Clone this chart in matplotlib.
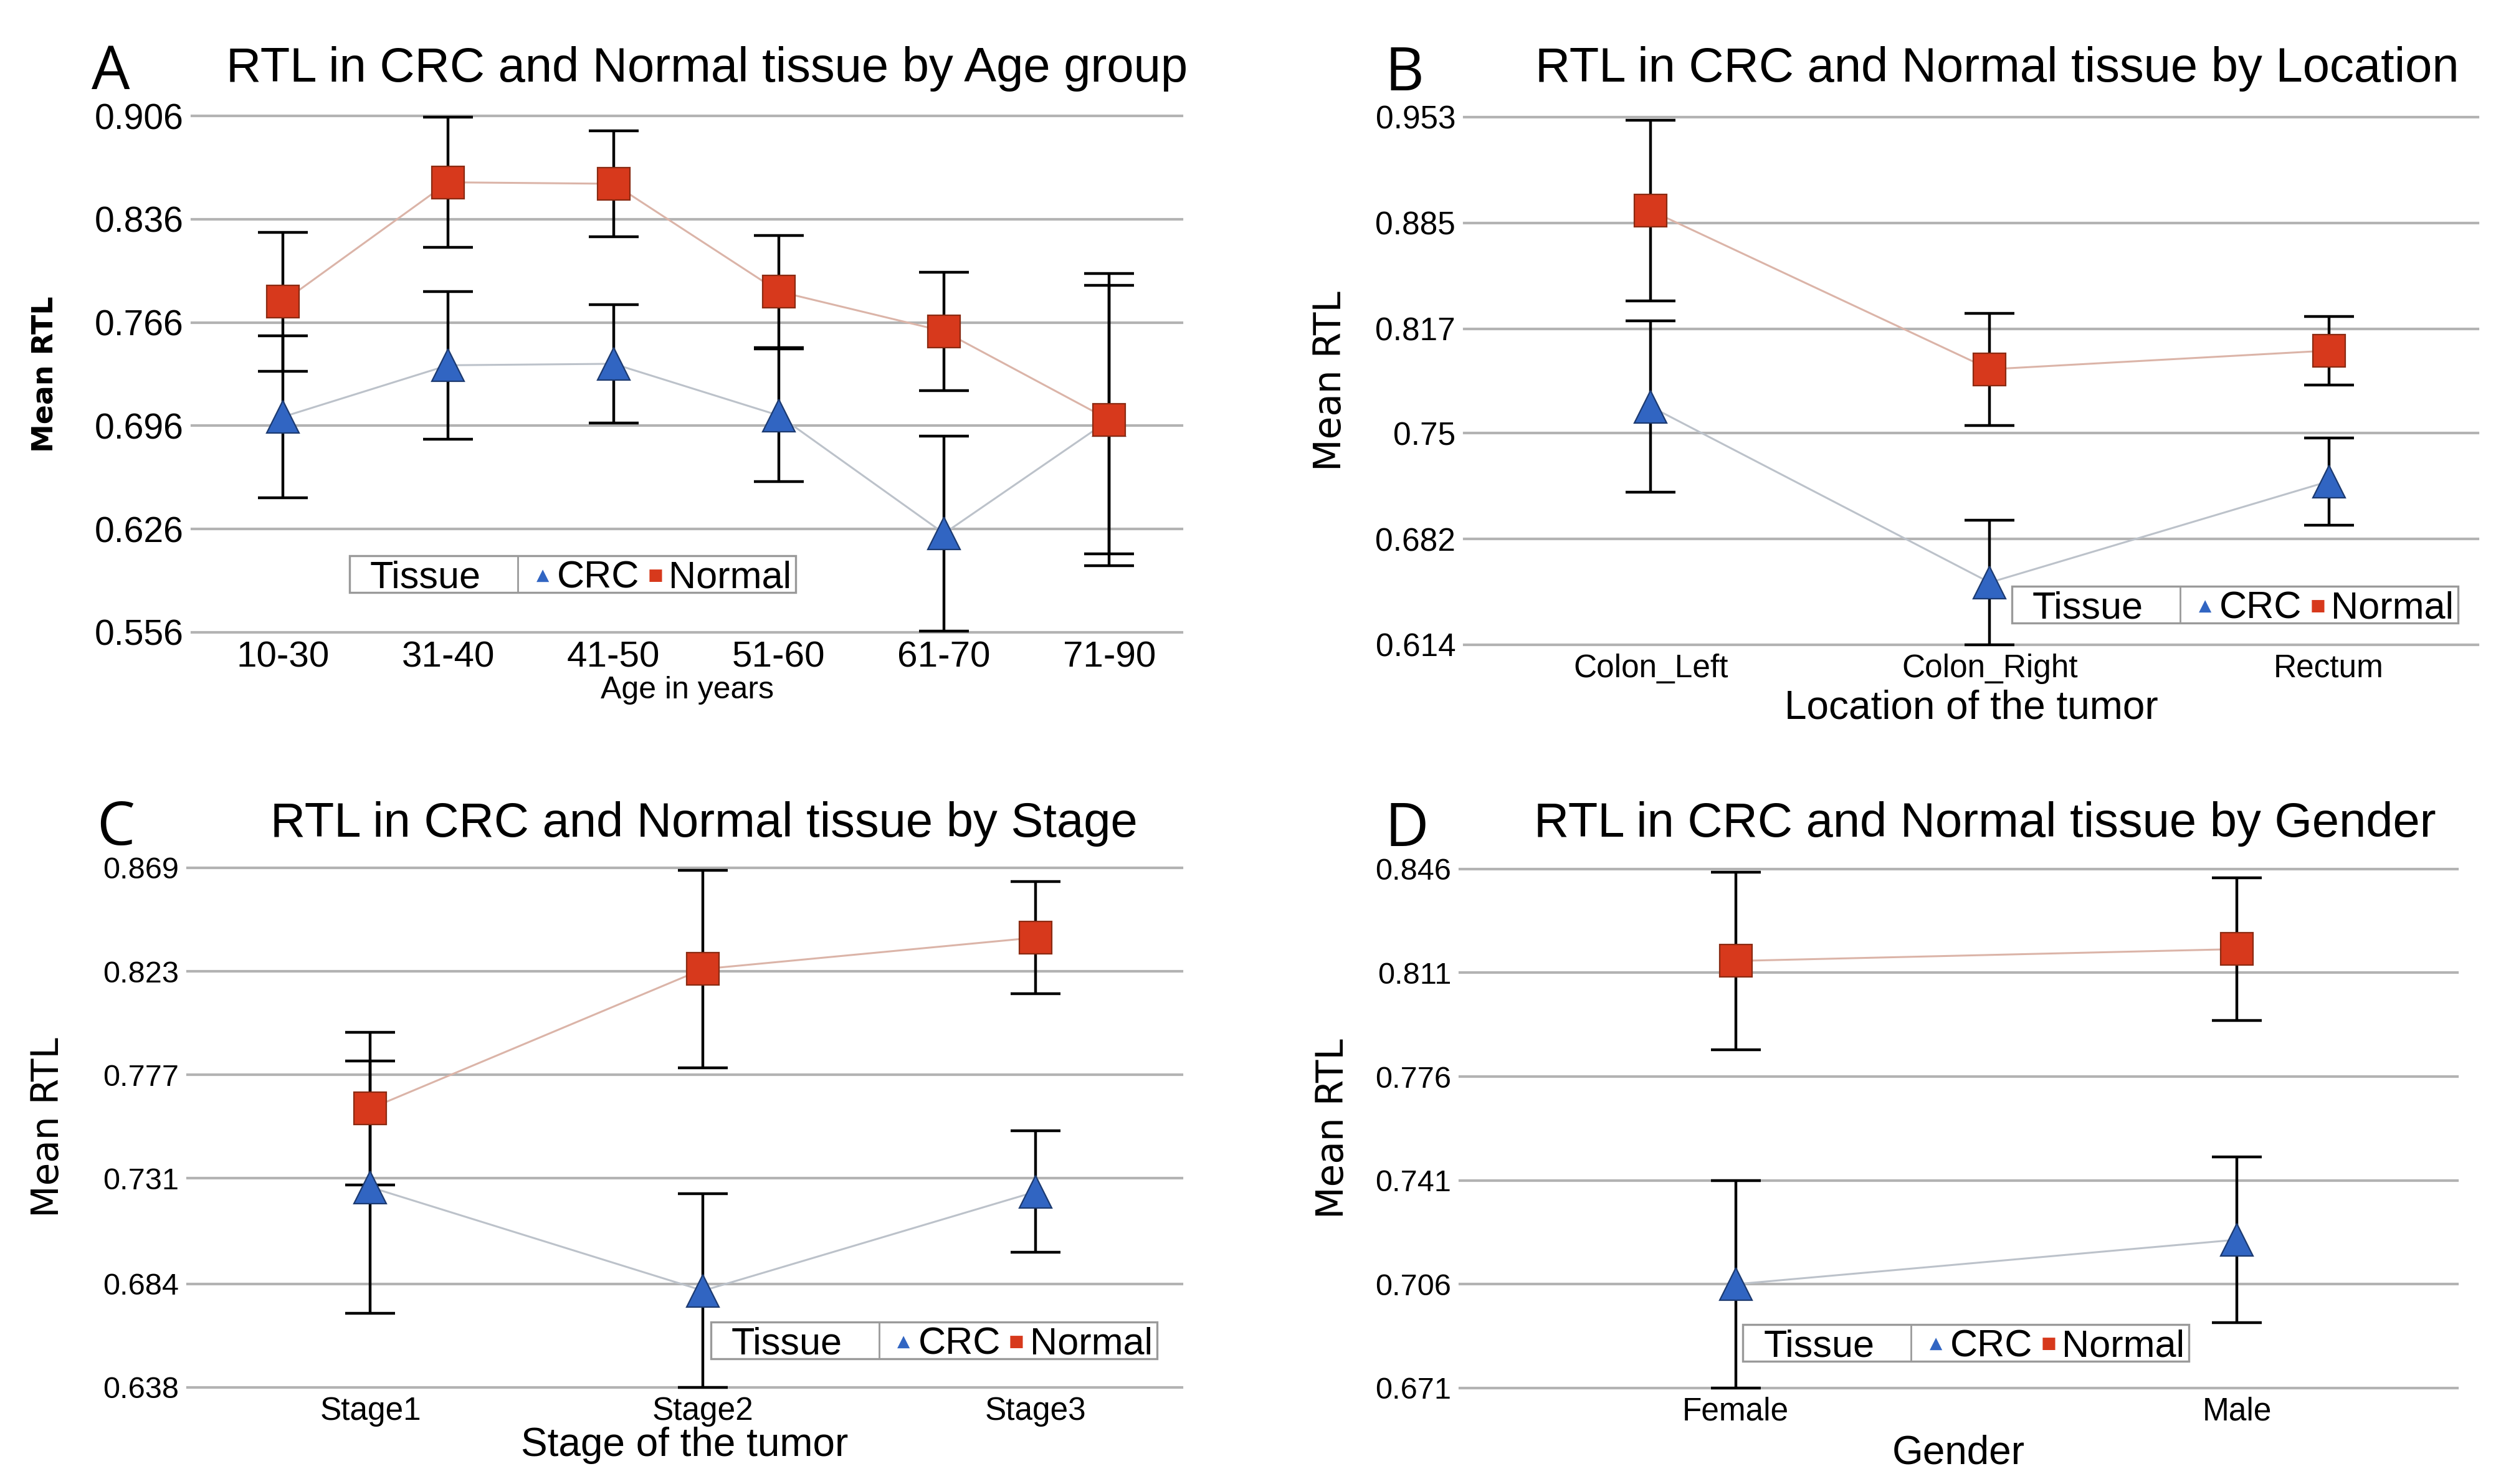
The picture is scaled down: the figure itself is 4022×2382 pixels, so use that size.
#!/usr/bin/env python3
"""RTL in CRC and Normal tissue, four panels (age, location, stage, gender)."""
import matplotlib
matplotlib.use('Agg')
import matplotlib.pyplot as plt
from matplotlib.patches import Rectangle
import numpy as np

# --- Style ---
plt.rcParams.update({
    'font.family': ['Liberation Sans', 'DejaVu Sans'],
    'figure.facecolor': 'white',
    'axes.facecolor': 'white',
})

BLUE = '#3165c2'
BLUE_EDGE = '#1c3a70'
RED = '#d7391c'
RED_EDGE = '#8a2a12'
LINE_CRC = '#bcc2ca'
LINE_NRM = '#dbb4a8'
GRID = '#b3b3b3'

W, H, DPI = 4022, 2382, 200

# --- Data ---
# A: by age group
age_cats = ['10-30', '31-40', '41-50', '51-60', '61-70', '71-90']
age_crc = [0.702, 0.737, 0.738, 0.703, 0.623, 0.700]
age_crc_err = [0.055, 0.050, 0.040, 0.045, 0.066, 0.099]
age_nrm = [0.780, 0.861, 0.860, 0.787, 0.760, 0.700]
age_nrm_err = [0.047, 0.044, 0.036, 0.038, 0.040, 0.091]
age_yticks = [0.556, 0.626, 0.696, 0.766, 0.836, 0.906]

# B: by location
loc_cats = ['Colon_Left', 'Colon_Right', 'Rectum']
loc_crc = [0.767, 0.654, 0.719]
loc_crc_err = [0.055, 0.040, 0.028]
loc_nrm = [0.893, 0.791, 0.803]
loc_nrm_err = [0.058, 0.036, 0.022]
loc_yticks = [0.614, 0.682, 0.75, 0.817, 0.885, 0.953]

# C: by stage
stage_cats = ['Stage1', 'Stage2', 'Stage3']
stage_crc = [0.727, 0.681, 0.725]
stage_crc_err = [0.056, 0.043, 0.027]
stage_nrm = [0.762, 0.824, 0.838]
stage_nrm_err = [0.034, 0.044, 0.025]
stage_yticks = [0.638, 0.684, 0.731, 0.777, 0.823, 0.869]

# D: by gender
sex_cats = ['Female', 'Male']
sex_crc = [0.706, 0.721]
sex_crc_err = [0.035, 0.028]
sex_nrm = [0.815, 0.819]
sex_nrm_err = [0.030, 0.024]
sex_yticks = [0.671, 0.706, 0.741, 0.776, 0.811, 0.846]


def fmt_tick(v):
    s = ('%.3f' % v).rstrip('0')
    return s


def draw_panel(ax, cats, crc, crc_err, nrm, nrm_err, yticks,
               ytick_fs, xtick_fs):
    x = np.arange(len(cats))
    ax.errorbar(x, crc, yerr=crc_err, fmt='none', ecolor='black',
                elinewidth=1.6, capsize=14.5, capthick=1.6, zorder=3,
                clip_on=False)
    ax.errorbar(x, nrm, yerr=nrm_err, fmt='none', ecolor='black',
                elinewidth=1.6, capsize=14.5, capthick=1.6, zorder=3,
                clip_on=False)
    ax.plot(x, crc, color=LINE_CRC, lw=1.1, zorder=2)
    ax.plot(x, nrm, color=LINE_NRM, lw=1.1, zorder=2)
    ax.plot(x, crc, linestyle='none', marker='^', markersize=18.5,
            markerfacecolor=BLUE, markeredgecolor=BLUE_EDGE,
            markeredgewidth=0.8, zorder=4, clip_on=False)
    ax.plot(x, nrm, linestyle='none', marker='s', markersize=18.5,
            markerfacecolor=RED, markeredgecolor=RED_EDGE,
            markeredgewidth=0.8, zorder=5, clip_on=False)

    ax.set_xlim(-0.55, len(cats) - 1 + 0.44)
    ax.set_ylim(yticks[0], yticks[-1])
    ax.set_xticks(x)
    ax.set_xticklabels(cats, fontsize=xtick_fs)
    ax.set_yticks(yticks)
    ax.set_yticklabels([fmt_tick(v) for v in yticks], fontsize=ytick_fs)
    ax.tick_params(axis='both', length=0)
    ax.tick_params(axis='y', pad=5)
    ax.tick_params(axis='x', pad=5)
    for s in ax.spines.values():
        s.set_visible(False)
    ax.grid(axis='y', color=GRID, linewidth=1.5)
    ax.grid(axis='x', visible=False)
    ax.set_axisbelow(True)
    for gl in ax.get_ygridlines():
        gl.set_clip_on(False)


def tissue_legend(ax, x0, y0):
    """Boxed legend 'Tissue | ▲CRC ■Normal', laid out in pixels."""
    pos = ax.get_position()
    aw, ah = pos.width * W, pos.height * H
    fx = lambda px: x0 + px / aw
    fy = lambda px: y0 + px / ah
    bw, bh = 716, 59
    ax.add_patch(Rectangle((x0, y0), bw / aw, bh / ah, transform=ax.transAxes,
                           facecolor='white', edgecolor='#9a9a9a', lw=1.2,
                           zorder=6, clip_on=False))
    ax.plot([fx(270), fx(270)], [y0, fy(bh)], transform=ax.transAxes,
            color='#9a9a9a', lw=1.0, zorder=7, clip_on=False)
    base = fy(bh / 2 - 22)
    kw = dict(transform=ax.transAxes, fontsize=22, va='baseline', ha='left',
              zorder=8)
    ax.text(fx(33), base, 'Tissue', **kw)
    ax.text(fx(333), base, 'CRC', **kw)
    ax.text(fx(512), base, 'Normal', **kw)
    gkw = dict(transform=ax.transAxes, fontsize=9.5, va='baseline',
               ha='center', zorder=8, family='DejaVu Sans')
    ax.text(fx(310), fy(bh / 2 - 9), '\u25B2', color=BLUE, **gkw)
    ax.text(fx(491), fy(bh / 2 - 9), '\u25A0', color=RED, **gkw)


# --- Plot ---
fig = plt.figure(figsize=(W / DPI, H / DPI), dpi=DPI)
axA = fig.add_axes([0.0766, 0.5739, 0.3951, 0.3480])
axB = fig.add_axes([0.5843, 0.5655, 0.4045, 0.3556])
axC = fig.add_axes([0.0748, 0.0651, 0.3969, 0.3501])
axD = fig.add_axes([0.5826, 0.0647, 0.3980, 0.3497])

draw_panel(axA, age_cats, age_crc, age_crc_err, age_nrm, age_nrm_err,
           age_yticks, 20.5, 21)
draw_panel(axB, loc_cats, loc_crc, loc_crc_err, loc_nrm, loc_nrm_err,
           loc_yticks, 18.5, 18.5)
draw_panel(axC, stage_cats, stage_crc, stage_crc_err, stage_nrm,
           stage_nrm_err, stage_yticks, 17.5, 18.5)
draw_panel(axD, sex_cats, sex_crc, sex_crc_err, sex_nrm, sex_nrm_err,
           sex_yticks, 17.5, 18.5)

# axis labels
axA.set_xlabel('Age in years', fontsize=18, va='center')
axA.xaxis.set_label_coords(0.5, -0.112)
axA.set_ylabel('Mean RTL', fontsize=16.5, fontweight='bold',
               family='DejaVu Sans', va='center')
axA.yaxis.set_label_coords(-0.1485, 0.5)

axB.set_xlabel('Location of the tumor', fontsize=23, va='center')
axB.xaxis.set_label_coords(0.5, -0.120)
axB.set_ylabel('Mean RTL', fontsize=21.5, family='DejaVu Sans', va='center')
axB.yaxis.set_label_coords(-0.132, 0.5)

axC.set_xlabel('Stage of the tumor', fontsize=23, va='center')
axC.xaxis.set_label_coords(0.5, -0.1115)
axC.set_ylabel('Mean RTL', fontsize=21.5, family='DejaVu Sans', va='center')
axC.yaxis.set_label_coords(-0.140, 0.5)

axD.set_xlabel('Gender', fontsize=23, va='center')
axD.xaxis.set_label_coords(0.5, -0.126)
axD.set_ylabel('Mean RTL', fontsize=21.5, family='DejaVu Sans', va='center')
axD.yaxis.set_label_coords(-0.127, 0.5)

# legends
tissue_legend(axA, 0.159, 0.077)
tissue_legend(axB, 0.540, 0.041)
tissue_legend(axC, 0.526, 0.055)
tissue_legend(axD, 0.2836, 0.052)

# titles and panel letters
fig.text(0.282, 0.945, 'RTL in CRC and Normal tissue by Age group',
         fontsize=28, ha='center', va='baseline')
fig.text(0.797, 0.945, 'RTL in CRC and Normal tissue by Location',
         fontsize=28, ha='center', va='baseline')
fig.text(0.281, 0.436, 'RTL in CRC and Normal tissue by Stage',
         fontsize=28, ha='center', va='baseline')
fig.text(0.792, 0.436, 'RTL in CRC and Normal tissue by Gender',
         fontsize=28, ha='center', va='baseline')

letter_kw = dict(fontsize=35, family='Open Sans', va='baseline', ha='left')
fig.text(0.0366, 0.940, 'A', **letter_kw)
fig.text(0.5525, 0.939, 'B', **letter_kw)
fig.text(0.0385, 0.4307, 'C', **letter_kw)
fig.text(0.5525, 0.430, 'D', **letter_kw)

fig.savefig('out.png', dpi=DPI)
plt.close()
print('saved out.png')
